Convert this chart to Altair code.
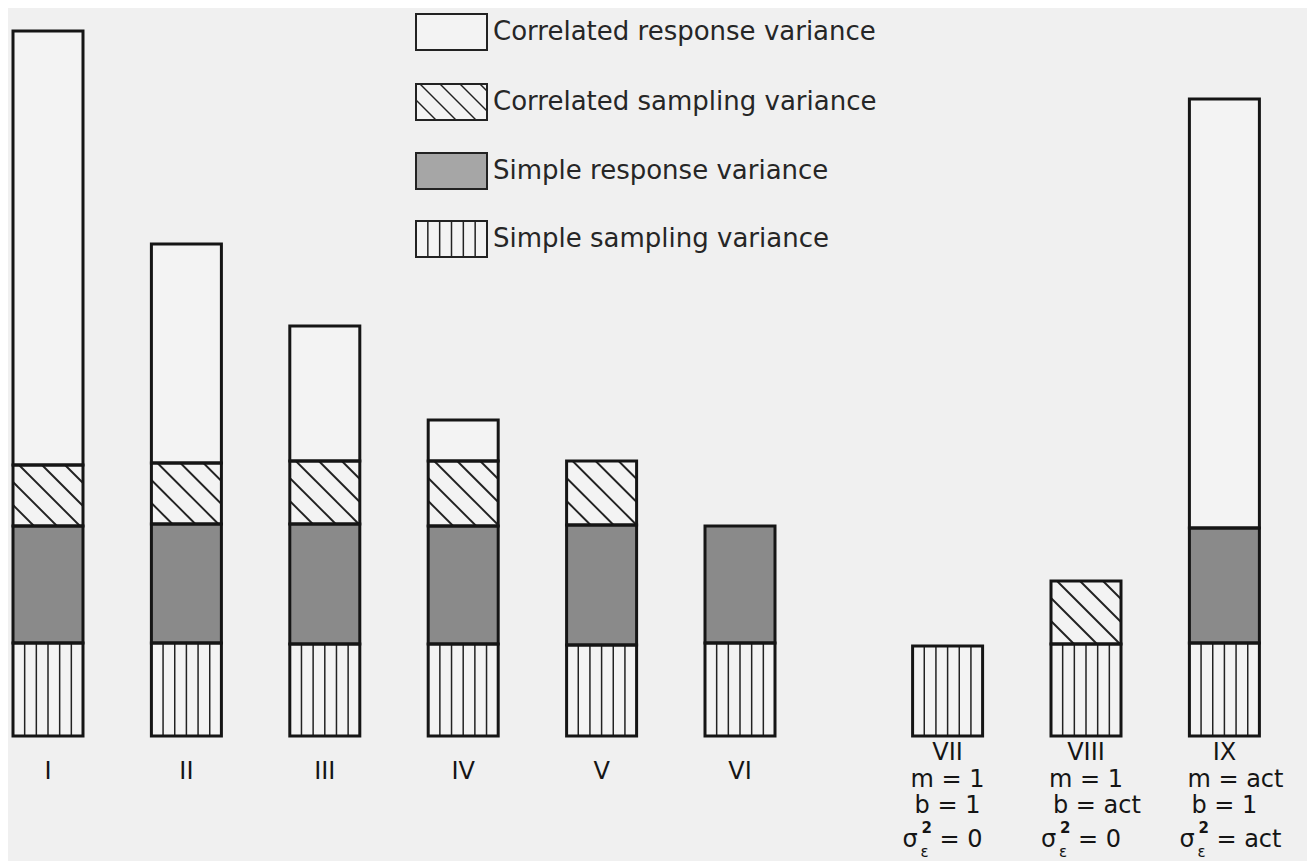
import math
import altair as alt
import pandas as pd

# ---------------- data ----------------
categories = ["I", "II", "III", "IV", "V", "VI", "VII", "VIII", "IX"]
group_pos = [1, 2, 3, 4, 5, 6, 7.5, 8.5, 9.5]
series = ["Simple sampling variance", "Simple response variance",
          "Correlated sampling variance", "Correlated response variance"]
simple_sampling = [9.3, 9.3, 9.2, 9.2, 9.1, 9.3, 9.0, 9.2, 9.3]
simple_response = [11.7, 11.9, 12.0, 11.8, 12.0, 11.7, 0.0, 0.0, 11.5]
correlated_sampling = [6.1, 6.1, 6.3, 6.5, 6.4, 0.0, 0.0, 6.3, 0.0]
correlated_response = [43.4, 21.9, 13.5, 4.1, 0.0, 0.0, 0.0, 0.0, 42.9]
m_labels = ["", "", "", "", "", "", "1", "1", "act"]
b_labels = ["", "", "", "", "", "", "1", "act", "1"]
sigma_labels = ["", "", "", "", "", "", "0", "0", "act"]
legend_order = ["Correlated response variance", "Correlated sampling variance",
                "Simple response variance", "Simple sampling variance"]

# ---------------- layout / style ----------------
W, H = 1299, 853
PX_X = 138.4          # pixels per x unit
PX_Y = 10.0           # pixels per y unit
X_FIRST = 40          # pixel centre of first group
BASE_PX = 728         # pixel of y = 0
HW = 35 / PX_X        # half bar width in x units
xs = alt.Scale(domain=[1 - X_FIRST / PX_X, 1 + (W - X_FIRST) / PX_X], zero=False, nice=False)
ys = alt.Scale(domain=[-(H - BASE_PX) / PX_Y, BASE_PX / PX_Y], zero=False, nice=False)
BG = "#f0f0f0"
WHITE = "#f3f3f3"
fill_colors = [WHITE, "#8a8a8a", WHITE, WHITE]
INK = "#151515"
FONT = "DejaVu Sans"

# ---------------- derived tables ----------------
values = [simple_sampling, simple_response, correlated_sampling, correlated_response]
seg_rows = []
for i, cat in enumerate(categories):
    base = 0.0
    for name, vals in zip(series, values):
        v = vals[i]
        if v > 0:
            seg_rows.append(dict(cat=cat, pos=group_pos[i], series=name,
                                 y0=base, y1=base + v,
                                 x0=group_pos[i] - HW, x1=group_pos[i] + HW))
            base += v
seg = pd.DataFrame(seg_rows)

vl_rows, dg_rows = [], []
for r in seg_rows:
    if r["series"] == "Simple sampling variance":
        for k in range(1, 6):
            vl_rows.append(dict(x=r["x0"] + k * 2 * HW / 6, y0=r["y0"], y1=r["y1"]))
    if r["series"] == "Correlated sampling variance":
        wpx = 2 * HW * PX_X
        hpx = (r["y1"] - r["y0"]) * PX_Y
        for k in range(-10, 10):
            c = 6 + 23 * k
            us, ue = max(0.0, c), min(wpx, hpx + c)
            if ue - us > 2:
                dg_rows.append(dict(xa=r["x0"] + us / PX_X, xb=r["x0"] + ue / PX_X,
                                    ya=r["y1"] - (us - c) / PX_Y, yb=r["y1"] - (ue - c) / PX_Y))
vlines_df = pd.DataFrame(vl_rows)
diag_df = pd.DataFrame(dg_rows)

lab = pd.DataFrame(dict(cat=categories, pos=group_pos, m=m_labels, b=b_labels, s=sigma_labels))
lab["m"] = "m = " + lab["m"]
lab["b"] = "b = " + lab["b"]
lab["s"] = "= " + lab["s"]
lab["late"] = lab["s"] != "= "

X = lambda f: alt.X(f, type="quantitative", scale=xs, axis=None)
Y = lambda f: alt.Y(f, type="quantitative", scale=ys, axis=None)

fills = alt.Chart(seg).mark_rect(strokeWidth=0).encode(
    x=X("x0"), x2="x1", y=Y("y0"), y2="y1",
    color=alt.Color("series:N", scale=alt.Scale(domain=series, range=fill_colors), legend=None))
vlines = alt.Chart(vlines_df).mark_rule(color="#222222", strokeWidth=1.5).encode(
    x=X("x"), y=Y("y0"), y2="y1")
diag = alt.Chart(diag_df).mark_rule(color="#222222", strokeWidth=1.9).encode(
    x=X("xa"), x2="xb", y=Y("ya"), y2="yb")
outlines = alt.Chart(seg).mark_rect(fillOpacity=0, stroke=INK, strokeWidth=3).encode(
    x=X("x0"), x2="x1", y=Y("y0"), y2="y1")

txt = dict(font=FONT, fontSize=24, color=INK)
late = lambda: alt.Chart(lab).transform_filter("datum.late")
num_early = alt.Chart(lab).transform_filter("!datum.late").mark_text(
    align="center", baseline="middle", **txt).encode(x=X("pos"), y=alt.value(764), text="cat:N")
num_late = late().mark_text(
    align="center", baseline="middle", **txt).encode(x=X("pos"), y=alt.value(745), text="cat:N")
m_row = late().mark_text(
    align="left", baseline="middle", dx=-37, **txt).encode(x=X("pos"), y=alt.value(772), text="m:N")
b_row = late().mark_text(
    align="left", baseline="middle", dx=-33, **txt).encode(x=X("pos"), y=alt.value(798), text="b:N")
sig = late().mark_text(
    align="left", baseline="middle", dx=-45, **txt).encode(x=X("pos"), y=alt.value(832), text=alt.value("σ"))
sup2 = late().mark_text(
    align="left", baseline="middle", dx=-26, font=FONT, fontSize=15, color=INK, fontWeight="bold").encode(
    x=X("pos"), y=alt.value(820), text=alt.value("2"))
subeps = late().mark_text(
    align="left", baseline="middle", dx=-27, font=FONT, fontSize=15, color=INK).encode(
    x=X("pos"), y=alt.value(844), text=alt.value("ε"))
s_row = late().mark_text(
    align="left", baseline="middle", dx=-8, **txt).encode(x=X("pos"), y=alt.value(832), text="s:N")

# ---------------- legend (drawn as marks) ----------------
LX0, LX1 = 408, 479
tops = [6, 76, 145, 213]
LH = 36
leg_fill = {"Correlated response variance": WHITE, "Correlated sampling variance": WHITE,
            "Simple response variance": "#a6a6a6", "Simple sampling variance": WHITE}
leg = pd.DataFrame(dict(name=legend_order, x0=LX0, x1=LX1, y0=tops, y1=[t + LH for t in tops],
                        ty=[t + LH / 2 for t in tops], fill=[leg_fill[n] for n in legend_order]))
leg_lines = []
t = tops[3]
for k in range(1, 6):
    xx = LX0 + k * (LX1 - LX0) / 6
    leg_lines.append(dict(xa=xx, xb=xx, ya=t, yb=t + LH))
t = tops[1]
for k in range(-5, 6):
    c = 4 + 20 * k
    us, ue = max(0.0, c), min(LX1 - LX0, LH + c)
    if ue - us > 2:
        leg_lines.append(dict(xa=LX0 + us, xb=LX0 + ue, ya=t + us - c, yb=t + ue - c))
leg_lines = pd.DataFrame(leg_lines)

PX = lambda f: alt.X(f, type="quantitative", scale=None, axis=None)
PY = lambda f: alt.Y(f, type="quantitative", scale=None, axis=None)
leg_fill_l = alt.Chart(leg).mark_rect(stroke="#222222", strokeWidth=2).encode(
    x=PX("x0"), x2="x1", y=PY("y0"), y2="y1", fill=alt.Fill("fill:N", scale=None))
leg_hatch = alt.Chart(leg_lines).mark_rule(color="#222222", strokeWidth=1.5).encode(
    x=PX("xa"), x2="xb", y=PY("ya"), y2="yb")
leg_text = alt.Chart(leg).mark_text(align="left", baseline="middle", dx=6, font=FONT,
                                     fontSize=26, color="#262626").encode(
    x=PX("x1"), y=PY("ty"), text="name:N")

chart = alt.layer(fills, vlines, diag, outlines, num_early, num_late, m_row, b_row,
                  sig, sup2, subeps, s_row, leg_fill_l, leg_hatch, leg_text).properties(
    width=W, height=H, autosize=alt.AutoSizeParams(type="none"), padding=0,
    background=BG
).configure_view(strokeWidth=0)

chart.save("out.html", embed_options={"renderer": "svg", "actions": False})
